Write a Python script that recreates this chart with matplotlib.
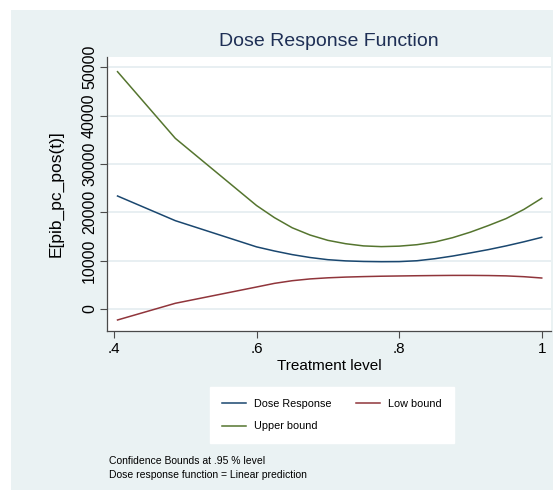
import matplotlib
matplotlib.use("Agg")
import matplotlib.pyplot as plt

plt.rcParams['font.family'] = ['Liberation Sans Narrow', 'Liberation Sans', 'DejaVu Sans']

# Data
treatment = [0.405, 0.486, 0.600, 0.625, 0.650, 0.675, 0.700, 0.725, 0.750,
             0.775, 0.800, 0.825, 0.850, 0.875, 0.900, 0.925, 0.950, 0.975, 1.000]
dose_response = [23370, 18270, 12850, 12000, 11250, 10650, 10200, 9950, 9830,
                 9780, 9800, 9980, 10400, 10950, 11600, 12280, 13050, 13900, 14820]
low_bound = [-2270, 1180, 4550, 5300, 5850, 6220, 6450, 6600, 6700,
             6780, 6830, 6880, 6920, 6950, 6950, 6920, 6850, 6680, 6410]
upper_bound = [49080, 35300, 21400, 18900, 16800, 15300, 14200, 13500, 13050,
               12900, 13000, 13300, 13850, 14750, 15900, 17250, 18700, 20600, 22900]

x_ticks = [0.4, 0.6, 0.8, 1.0]
x_ticklabels = ['.4', '.6', '.8', '1']
y_ticks = [0, 10000, 20000, 30000, 40000, 50000]
y_ticklabels = ['0', '10000', '20000', '30000', '40000', '50000']

W, H = 553, 490
fig = plt.figure(figsize=(W / 100, H / 100), dpi=100)
fig.patch.set_facecolor('white')
bg = '#eaf2f3'
bgax = fig.add_axes([11 / W, 0, 1 - 11 / W, 1 - 10 / H], zorder=0)
bgax.set_facecolor(bg)
bgax.set_xticks([])
bgax.set_yticks([])
for s in bgax.spines.values():
    s.set_visible(False)

left, right, top, bottom = 106.7, 551, 56.7, 331
ax = fig.add_axes([left / W, 1 - bottom / H, (right - left) / W, (bottom - top) / H], zorder=2)
ax.set_facecolor('white')

ax.plot(treatment, dose_response, color='#1a476f', lw=1.1, label='Dose Response', zorder=3)
ax.plot(treatment, low_bound, color='#90353b', lw=1.1, label='Low bound', zorder=3)
ax.plot(treatment, upper_bound, color='#55752f', lw=1.1, label='Upper bound', zorder=3)

ax.set_xlim(0.3898, 1.013)
ax.set_ylim(-4550, 52180)
ax.set_xticks(x_ticks)
ax.set_xticklabels(x_ticklabels, fontsize=11)
ax.set_yticks(y_ticks)
ax.set_yticklabels(y_ticklabels, fontsize=11.5, rotation=90, va='center')
ax.grid(axis='y', color='#e6eef1', lw=1.3)
ax.set_axisbelow(True)
for s in ['top', 'right']:
    ax.spines[s].set_visible(False)
for s in ['left', 'bottom']:
    ax.spines[s].set_color('#4a4a4a')
    ax.spines[s].set_linewidth(0.9)
ax.tick_params(axis='both', colors='#4a4a4a', length=5, width=0.8, labelcolor='black')
ax.tick_params(axis='x', pad=3)
ax.tick_params(axis='y', pad=2)

ax.set_xlabel('Treatment level', fontsize=11, labelpad=2)
ax.set_ylabel('E[pib_pc_pos(t)]', fontsize=12.5, labelpad=13)

fig.text(329 / W, 1 - 41 / H, 'Dose Response Function', fontsize=14,
         color='#1e2f55', ha='center', va='center', zorder=5)

handles, labels = ax.get_legend_handles_labels()
order = [0, 2, 1]
leg = fig.legend([handles[i] for i in order], [labels[i] for i in order],
                 ncol=2, loc='upper left',
                 bbox_to_anchor=(210 / W, 1 - 387 / H), borderaxespad=0,
                 fontsize=7.8, frameon=True, fancybox=False,
                 handlelength=2.2, columnspacing=2.2, handletextpad=0.8,
                 borderpad=1.1, labelspacing=1.15)
leg.get_frame().set_facecolor('white')
leg.get_frame().set_edgecolor('white')
leg.get_frame().set_alpha(1)
leg.set_zorder(5)

fig.text(109 / W, 1 - 460.6 / H, 'Confidence Bounds at .95 % level', fontsize=7.5,
         ha='left', va='center', zorder=5)
fig.text(109 / W, 1 - 474.8 / H, 'Dose response function = Linear prediction', fontsize=7.5,
         ha='left', va='center', zorder=5)

fig.savefig('out.png', dpi=100, facecolor=fig.get_facecolor())
